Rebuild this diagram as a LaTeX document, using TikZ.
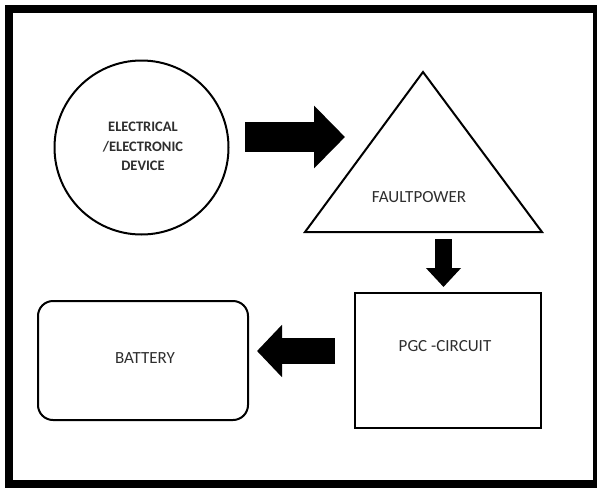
\documentclass[tikz,border=0pt]{standalone}
\usepackage{fontspec}
\setmainfont{Carlito}
\usetikzlibrary{arrows.meta}
\definecolor{txt}{HTML}{2E2E2E}
\tikzset{
  shapeline/.style={draw=black, line width=2},
  lbl/.style={text=txt, inner sep=0, font=\fontsize{17}{20}\selectfont},
  devlbl/.style={text=txt, inner sep=0, align=center, font=\fontsize{14.5}{19.5}\selectfont\bfseries},
  blockarrow/.style n args={3}{line width=#1, line cap=butt, -{Triangle[length=#3, width=#2]}}
}
\begin{document}
\begin{tikzpicture}[x=1pt,y=-1pt]
\useasboundingbox (0,0) rectangle (597,488);
\draw[line width=8] (9,9) rectangle (597,484);
% device circle
\node[shapeline, circle, minimum size=174, inner sep=0] (dev) at (141.5,147.5) {};
\node[devlbl] (devtext) at (143,146.5) {ELECTRICAL\\/ELECTRONIC\\DEVICE};
% triangle
\coordinate (tl) at (305,232);
\coordinate (tr) at (542,232);
\coordinate (tt) at (423,72);
\draw[shapeline, line join=miter] (tl) -- (tr) -- (tt) -- cycle;
\node[lbl] (fault) at (419,197) {FAULTPOWER};
% PGC box
\node[shapeline, rectangle, minimum width=186, minimum height=135, inner sep=0] (pgc) at (448,360.5) {};
\node[lbl] (pgctext) at (445,346) {PGC -CIRCUIT};
% battery
\node[shapeline, rectangle, rounded corners=15, minimum width=210, minimum height=119, inner sep=0] (bat) at (143,360.5) {};
\node[lbl] (battext) at (145,358) {BATTERY};
% arrows
\coordinate (a1s) at (245,137);
\coordinate (a1e) at (345,137);
\draw[blockarrow={30}{61}{31}] (a1s) -- (a1e);
\coordinate (a2s) at (443.5,239);
\coordinate (a2e) at (443.5,287);
\draw[blockarrow={17}{34}{19}] (a2s) -- (a2e);
\coordinate (a3s) at (335,351);
\coordinate (a3e) at (257,351);
\draw[blockarrow={26}{51}{25}] (a3s) -- (a3e);
\end{tikzpicture}
\end{document}
